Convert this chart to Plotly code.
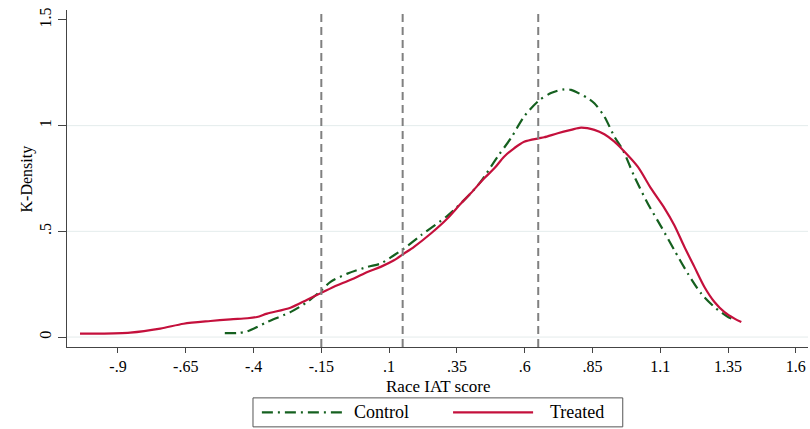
import plotly.graph_objects as go

# ---- data ----
treated_x = [-1.04, -0.98, -0.855, -0.744, -0.658, -0.559, -0.485, -0.423, -0.387, -0.350,
             -0.264, -0.202, -0.15, -0.091, -0.030, 0.020, 0.069, 0.118, 0.155, 0.192,
             0.254, 0.315, 0.365, 0.401, 0.451, 0.488, 0.524, 0.561, 0.598, 0.651,
             0.672, 0.722, 0.771, 0.808, 0.857, 0.894, 0.931, 0.962, 1.017, 1.066,
             1.116, 1.152, 1.189, 1.226, 1.263, 1.300, 1.337, 1.374, 1.399]
treated_y = [0.016, 0.016, 0.021, 0.040, 0.063, 0.076, 0.084, 0.089, 0.095, 0.111,
             0.139, 0.177, 0.209, 0.245, 0.277, 0.308, 0.332, 0.363, 0.395, 0.427,
             0.490, 0.561, 0.632, 0.680, 0.751, 0.798, 0.853, 0.893, 0.924, 0.940,
             0.945, 0.964, 0.980, 0.991, 0.980, 0.959, 0.924, 0.885, 0.806, 0.703,
             0.609, 0.529, 0.427, 0.332, 0.237, 0.166, 0.118, 0.087, 0.071]

control_x = [-0.506, -0.460, -0.423, -0.350, -0.264, -0.202, -0.15, -0.116, -0.054, 0.020,
             0.069, 0.118, 0.155, 0.220, 0.318, 0.401, 0.438, 0.500, 0.549, 0.598,
             0.651, 0.697, 0.746, 0.771, 0.833, 0.857, 0.894, 0.931, 0.962, 1.005,
             1.054, 1.104, 1.152, 1.202, 1.251, 1.300, 1.350, 1.374]
control_y = [0.019, 0.019, 0.027, 0.071, 0.118, 0.166, 0.221, 0.261, 0.300, 0.332,
             0.348, 0.387, 0.419, 0.484, 0.577, 0.680, 0.735, 0.853, 0.940, 1.043,
             1.117, 1.154, 1.172, 1.169, 1.130, 1.106, 1.043, 0.948, 0.885, 0.758,
             0.632, 0.521, 0.411, 0.300, 0.206, 0.142, 0.095, 0.082]

cutoffs = [-0.15, 0.15, 0.65]

x_tickvals = [-0.9, -0.65, -0.4, -0.15, 0.1, 0.35, 0.6, 0.85, 1.1, 1.35, 1.6]
x_ticktext = ["-.9", "-.65", "-.4", "-.15", ".1", ".35", ".6", ".85", "1.1", "1.35", "1.6"]
y_tickvals = [0, 0.5, 1, 1.5]
y_ticktext = ["0", ".5", "1", "1.5"]
grid_vals = [0, 0.5, 1]

series_names = ["Control", "Treated"]
x_title = "Race IAT score"
y_title = "K-Density"

# ---- styles ----
GREEN = "#15601f"
RED = "#c4103c"
GREEN_DASH = "11px,5px,2px,5px"
FONT = "Liberation Serif"

fig = go.Figure()

fig.add_trace(go.Scatter(x=control_x, y=control_y, mode="lines", name=series_names[0],
                         line=dict(color=GREEN, width=2.2, dash=GREEN_DASH, shape="spline", smoothing=0.8),
                         showlegend=False))
fig.add_trace(go.Scatter(x=treated_x, y=treated_y, mode="lines", name=series_names[1],
                         line=dict(color=RED, width=2.2, shape="spline", smoothing=0.8),
                         showlegend=False))

shapes = []
# horizontal gridlines
for g in grid_vals:
    shapes.append(dict(type="line", xref="paper", yref="y", x0=0, x1=1, y0=g, y1=g,
                       line=dict(color="#e4ecec", width=1), layer="below"))
# vertical dashed cutoff lines
for c in cutoffs:
    shapes.append(dict(type="line", xref="x", yref="paper", x0=c, x1=c, y0=0, y1=1,
                       line=dict(color="#808080", width=2, dash="8px,5px")))

# custom legend (box + line samples)
shapes.append(dict(type="rect", xref="paper", yref="paper", x0=0.251, x1=0.750, y0=-0.237, y1=-0.151,
                   line=dict(color="#555555", width=1), fillcolor="white"))
shapes.append(dict(type="line", xref="paper", yref="paper", x0=0.263, x1=0.371, y0=-0.194, y1=-0.194,
                   line=dict(color=GREEN, width=2.2, dash=GREEN_DASH)))
shapes.append(dict(type="line", xref="paper", yref="paper", x0=0.521, x1=0.629, y0=-0.194, y1=-0.194,
                   line=dict(color=RED, width=2.2)))

annotations = [
    dict(text=series_names[0], xref="paper", yref="paper", x=0.385, y=-0.194, xanchor="left",
         yanchor="middle", showarrow=False, font=dict(family=FONT, size=18, color="black")),
    dict(text=series_names[1], xref="paper", yref="paper", x=0.649, y=-0.194, xanchor="left",
         yanchor="middle", showarrow=False, font=dict(family=FONT, size=18, color="black")),
    dict(text=x_title, xref="paper", yref="paper", x=0.5, y=-0.118, xanchor="center",
         yanchor="middle", showarrow=False, borderpad=0,
         font=dict(family=FONT, size=17, color="black")),
    dict(text=y_title, xref="paper", yref="paper", x=-0.054, y=0.5, xanchor="center",
         yanchor="middle", textangle=-90, showarrow=False,
         font=dict(family=FONT, size=16, color="black")),
]

fig.update_layout(
    width=810, height=429,
    margin=dict(l=67, r=2, t=10, b=82),
    paper_bgcolor="white", plot_bgcolor="white",
    font=dict(family=FONT, size=18, color="black"),
    shapes=shapes, annotations=annotations,
    showlegend=False,
    xaxis=dict(range=[-1.088, 1.645], tickvals=x_tickvals, ticktext=x_ticktext, automargin=False,
               showgrid=False, zeroline=False, showline=True, linecolor="#444444", linewidth=1.3,
               ticks="outside", ticklen=5, tickwidth=1.3, tickcolor="#444444",
               tickfont=dict(family=FONT, size=16)),
    yaxis=dict(range=[-0.047, 1.547], tickvals=y_tickvals, ticktext=y_ticktext, tickangle=-90,
               automargin=False,
               showgrid=False, zeroline=False, showline=True, linecolor="#444444", linewidth=1.3,
               ticks="outside", ticklen=8, tickwidth=1.3, tickcolor="#444444",
               tickfont=dict(family=FONT, size=16)),
)

fig.write_html("out.html", config={"displayModeBar": False},
               post_script="document.body.style.margin='0';document.body.style.overflow='hidden';")
